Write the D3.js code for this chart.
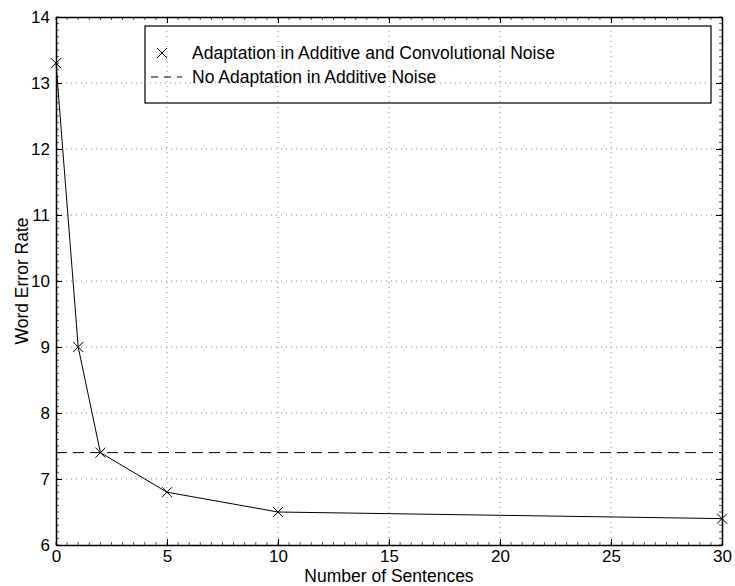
<!DOCTYPE html>
<html><head><meta charset="utf-8">
<script src="https://cdn.jsdelivr.net/npm/d3@7"></script>
<style>body{margin:0;background:#fff}svg{display:block}text{font-family:"Liberation Sans",Arial,sans-serif}</style>
</head><body><svg id="c" width="735" height="586"></svg>
<script>
const sentences = [0, 1, 2, 5, 10, 30];
const werAdapt = [13.3, 9.0, 7.4, 6.8, 6.5, 6.4];
const werNoAdapt = 7.4;
const xTicks = [0, 5, 10, 15, 20, 25, 30];
const yTicks = [6, 7, 8, 9, 10, 11, 12, 13, 14];
const legendLabels = ["Adaptation in Additive and Convolutional Noise", "No Adaptation in Additive Noise"];

const L = 56, R = 722, T = 17, B = 545;
const FF = '"Liberation Sans",Arial,sans-serif';
const svg = d3.select("#c");
const x = d3.scaleLinear().domain([0, 30]).range([L, R]);
const y = d3.scaleLinear().domain([6, 14]).range([B, T]);

// grid
const g = svg.append("g");
g.selectAll(".gx").data(xTicks.slice(1, -1)).enter().append("line")
  .attr("x1", d => x(d)).attr("x2", d => x(d)).attr("y1", T).attr("y2", B)
  .attr("stroke", "#888").attr("stroke-width", 1).attr("stroke-dasharray", "1,4");
g.selectAll(".gy").data(yTicks.slice(1, -1)).enter().append("line")
  .attr("y1", d => y(d)).attr("y2", d => y(d)).attr("x1", L).attr("x2", R)
  .attr("stroke", "#888").attr("stroke-width", 1).attr("stroke-dasharray", "1,4");

// minor ticks
const xMinor = d3.range(0, 30.001, 0.5);
const yMinor = d3.range(6, 14.001, 0.1);
const mt = svg.append("g").attr("stroke", "#555").attr("stroke-width", 1);
xMinor.forEach(v => {
  mt.append("line").attr("x1", x(v)).attr("x2", x(v)).attr("y1", B).attr("y2", B - 3);
  mt.append("line").attr("x1", x(v)).attr("x2", x(v)).attr("y1", T).attr("y2", T + 3);
});
yMinor.forEach(v => {
  mt.append("line").attr("y1", y(v)).attr("y2", y(v)).attr("x1", L).attr("x2", L + 3);
  mt.append("line").attr("y1", y(v)).attr("y2", y(v)).attr("x1", R).attr("x2", R - 3);
});

// axes
const fs = 17;
const xa = svg.append("g").attr("transform", `translate(0,${B})`)
  .call(d3.axisBottom(x).tickValues(xTicks).tickSizeInner(-6).tickSizeOuter(0).tickPadding(5));
const xt = svg.append("g").attr("transform", `translate(0,${T})`)
  .call(d3.axisTop(x).tickValues(xTicks).tickSizeInner(-6).tickSizeOuter(0).tickFormat(""));
const ya = svg.append("g").attr("transform", `translate(${L},0)`)
  .call(d3.axisLeft(y).tickValues(yTicks).tickSizeInner(-6).tickSizeOuter(0).tickPadding(6));
const yr = svg.append("g").attr("transform", `translate(${R},0)`)
  .call(d3.axisRight(y).tickValues(yTicks).tickSizeInner(-6).tickSizeOuter(0).tickFormat(""));
[xa, xt, ya, yr].forEach(a => {
  a.selectAll("path").attr("stroke", "#000").attr("stroke-width", 1.5);
  a.selectAll("line").attr("stroke", "#000");
  a.selectAll("text").attr("font-size", fs).attr("fill", "#000").attr("font-family", FF);
});
xa.selectAll("text").attr("dy", "0.71em");

// data line
const line = d3.line().x((d, i) => x(sentences[i])).y(d => y(d));
svg.append("path").datum(werAdapt).attr("d", line).attr("fill", "none").attr("stroke", "#000").attr("stroke-width", 1);
const m = 5;
const mk = svg.append("g");
werAdapt.forEach((v, i) => {
  const cx = x(sentences[i]), cy = y(v);
  mk.append("path").attr("d", `M${cx-m},${cy-m}L${cx+m},${cy+m}M${cx-m},${cy+m}L${cx+m},${cy-m}`)
    .attr("stroke", "#000").attr("stroke-width", 1).attr("fill", "none");
});
// baseline dashed
svg.append("line").attr("x1", x(0)).attr("x2", x(30)).attr("y1", y(werNoAdapt)).attr("y2", y(werNoAdapt))
  .attr("stroke", "#000").attr("stroke-width", 1).attr("stroke-dasharray", "11,6");

// legend
const lx0 = 145, ly0 = 26, lx1 = 711, ly1 = 103;
const lg = svg.append("g");
lg.append("rect").attr("x", lx0).attr("y", ly0).attr("width", lx1 - lx0).attr("height", ly1 - ly0)
  .attr("fill", "#fff").attr("stroke", "#000").attr("stroke-width", 1.2);
lg.selectAll(".lgx").data(xTicks.slice(1, -1)).enter().append("line")
  .attr("x1", d => x(d)).attr("x2", d => x(d)).attr("y1", ly0).attr("y2", ly1)
  .attr("stroke", "#888").attr("stroke-dasharray", "1,4");
lg.selectAll(".lgy").data(yTicks.filter(d => y(d) > ly0 && y(d) < ly1)).enter().append("line")
  .attr("y1", d => y(d)).attr("y2", d => y(d)).attr("x1", lx0).attr("x2", lx1)
  .attr("stroke", "#888").attr("stroke-dasharray", "1,4");
const mx = 162, my1 = 53, my2 = 77;
lg.append("path").attr("d", `M${mx-5},${my1-5}L${mx+5},${my1+5}M${mx-5},${my1+5}L${mx+5},${my1-5}`)
  .attr("stroke", "#000").attr("stroke-width", 1);
lg.append("line").attr("x1", 151).attr("x2", 182).attr("y1", my2).attr("y2", my2)
  .attr("stroke", "#000").attr("stroke-dasharray", "7,6");
lg.selectAll(".lt").data(legendLabels).enter().append("text")
  .attr("x", 192).attr("y", (d, i) => [my1, my2][i]).attr("dy", "0.35em")
  .attr("font-size", 17.5).text(d => d);

// labels
svg.append("text").attr("x", 389).attr("y", 582).attr("text-anchor", "middle").attr("font-size", 17.5).text("Number of Sentences");
svg.append("text").attr("transform", `translate(28,${(T + B) / 2}) rotate(-90)`).attr("text-anchor", "middle").attr("font-size", 17.5).text("Word Error Rate");
</script></body></html>
